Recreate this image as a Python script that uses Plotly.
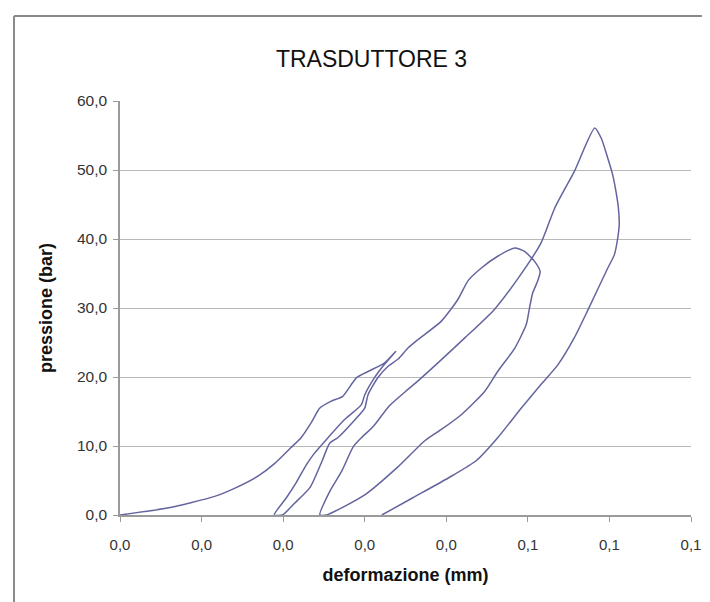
import plotly.graph_objects as go

# deformation (mm) and pressure (bar), read along the continuous path
deformazione = [
    # first loading
    0.0000, 0.0058, 0.0116, 0.0141, 0.0170, 0.0189, 0.0209, 0.0222, 0.0235, 0.0245,
    0.0259, 0.0273, 0.0290, 0.0304, 0.0324, 0.0338,
    # first unloading
    0.0324, 0.0312, 0.0300, 0.0296, 0.0275, 0.0255, 0.0238, 0.0228, 0.0216, 0.0204, 0.0189,
    # second loading / unloading
    0.0199, 0.0214, 0.0233, 0.0248, 0.0257, 0.0267, 0.0288, 0.0300, 0.0304, 0.0316,
    0.0329, 0.0341, 0.0353, 0.0365, 0.0394, 0.0414, 0.0427, 0.0443, 0.0463, 0.0484,
    0.0496, 0.0508, 0.0515, 0.0512, 0.0506, 0.0502, 0.0498, 0.0484, 0.0463, 0.0447,
    0.0418, 0.0394, 0.0374, 0.0340, 0.0301, 0.0253,
    # third loading
    0.0245, 0.0257, 0.0272, 0.0286, 0.0296, 0.0311, 0.0330, 0.0353, 0.0365, 0.0423,
    0.0459, 0.0488, 0.0516, 0.0533, 0.0557, 0.0582,
    # third unloading
    0.0590, 0.0598, 0.0604, 0.0608, 0.0611, 0.0612, 0.0610, 0.0606, 0.0598, 0.0574,
    0.0557, 0.0537, 0.0516, 0.0492, 0.0463, 0.0437, 0.0403, 0.0359, 0.0321,
]
pressione = [
    0.0, 1.0, 2.7, 3.9, 5.7, 7.4, 9.7, 11.2, 13.5, 15.5,
    16.5, 17.2, 19.9, 20.8, 22.0, 23.7,
    21.8, 19.9, 17.4, 16.0, 13.8, 11.2, 8.9, 7.2, 4.7, 2.5, 0.0,
    0.0, 1.7, 4.0, 7.9, 10.4, 11.2, 13.8, 15.5, 17.4, 19.9,
    21.6, 22.6, 24.2, 25.4, 28.1, 31.2, 34.0, 35.8, 37.5, 38.7,
    38.2, 36.8, 35.3, 33.9, 32.2, 30.0, 27.6, 24.2, 20.8, 17.9,
    14.5, 12.4, 10.8, 6.9, 3.0, 0.0,
    0.0, 3.4, 6.4, 9.9, 11.2, 12.9, 15.8, 18.2, 19.4, 25.7,
    29.8, 34.3, 39.4, 44.5, 49.8, 56.1,
    54.6, 51.7, 49.3, 46.9, 44.5, 42.1, 40.0, 37.7, 35.8, 29.8,
    25.7, 21.8, 18.9, 15.5, 11.2, 7.9, 5.4, 2.5, 0.0,
]

x_tick_vals = [0.0, 0.01, 0.02, 0.03, 0.04, 0.05, 0.06, 0.07]
x_tick_text = ["0,0", "0,0", "0,0", "0,0", "0,0", "0,1", "0,1", "0,1"]
y_tick_vals = [0, 10, 20, 30, 40, 50, 60]
y_tick_text = ["0,0", "10,0", "20,0", "30,0", "40,0", "50,0", "60,0"]

FONT = "Liberation Sans, Arial, Helvetica, sans-serif"

fig = go.Figure()
fig.add_trace(go.Scatter(
    x=deformazione, y=pressione, mode="lines",
    line=dict(color="#64649f", width=1.5, shape="spline", smoothing=0.6),
    showlegend=False, hoverinfo="skip",
))

W, H = 710, 602
L, R, T, B = 112, 27, 93, 95
pw, ph = W - L - R, H - T - B

def fx(px):
    return (px - L) / pw

def fy(py):
    return (H - B - py) / ph

fig.update_layout(
    width=W, height=H,
    margin=dict(l=L, r=R, t=T, b=B),
    paper_bgcolor="white", plot_bgcolor="white",
    font=dict(family=FONT, color="#222222"),
    title=dict(text="TRASDUTTORE 3", x=0.512, xanchor="center", y=1 - 51 / H, yanchor="middle",
               font=dict(family=FONT, size=23, color="#111111")),
    xaxis=dict(
        range=[0, 0.07], tickvals=x_tick_vals, ticktext=x_tick_text,
        showgrid=False, zeroline=False,
        showline=True, linecolor="#9a9a9a", linewidth=1.5,
        ticks="outside", ticklen=5, tickcolor="#9a9a9a",
        ticklabelstandoff=10,
        tickfont=dict(family=FONT, size=15, color="#333333"),
        title=dict(text="<b>deformazione (mm)</b>", standoff=17,
                   font=dict(family=FONT, size=18, color="#111111")),
    ),
    yaxis=dict(
        range=[0, 60], tickvals=y_tick_vals, ticktext=y_tick_text,
        showgrid=True, gridcolor="#b8b8b8", gridwidth=1, zeroline=False,
        showline=True, linecolor="#9a9a9a", linewidth=1.5,
        ticks="outside", ticklen=5, tickcolor="#9a9a9a",
        ticklabelstandoff=3,
        tickfont=dict(family=FONT, size=15.5, color="#333333"),
        title=dict(text="<b>pressione (bar)</b>", standoff=20,
                   font=dict(family=FONT, size=18, color="#111111")),
    ),
    shapes=[
        dict(type="line", xref="paper", yref="paper", x0=fx(6), x1=fx(706), y0=fy(8), y1=fy(8),
             line=dict(color="#8a8a8a", width=2)),
        dict(type="line", xref="paper", yref="paper", x0=fx(6), x1=fx(6), y0=fy(8), y1=fy(597),
             line=dict(color="#8a8a8a", width=2)),
        dict(type="line", xref="paper", yref="paper", x0=fx(6), x1=fx(706), y0=fy(597), y1=fy(597),
             line=dict(color="#d8d8d8", width=1)),
    ],
)

fig.write_html("out.html")
